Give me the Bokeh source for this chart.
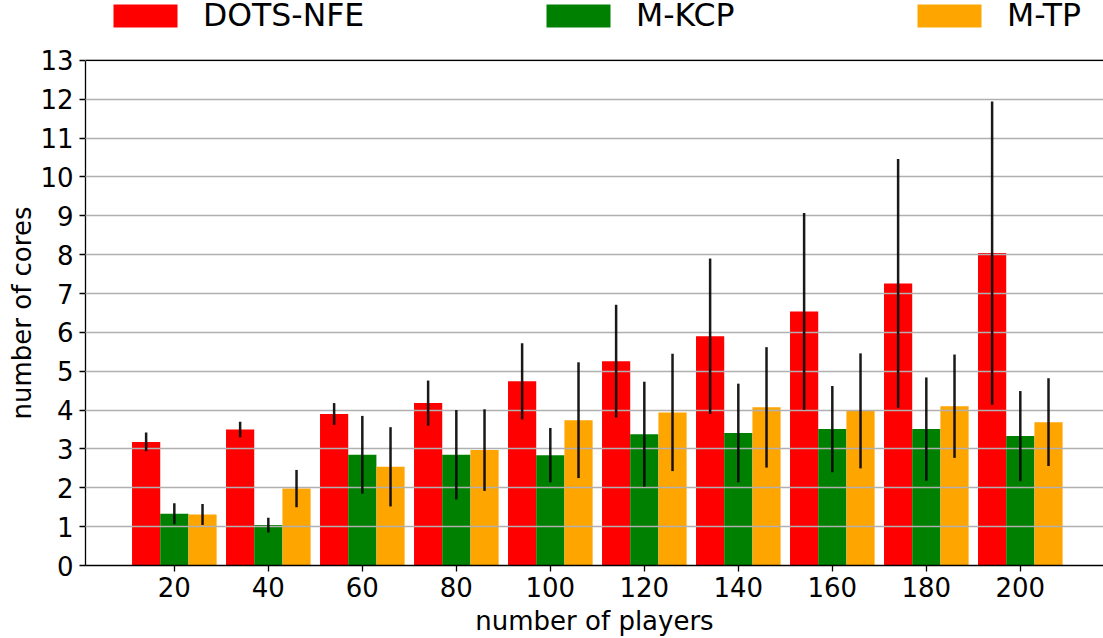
from bokeh.plotting import figure
from bokeh.models import (ColumnDataSource, Range1d, FixedTicker,
                          Legend, LegendItem, Whisker, Span, Title)
from bokeh.embed import file_html
from bokeh.resources import INLINE

players = [20, 40, 60, 80, 100, 120, 140, 160, 180, 200]
series_names = ["DOTS-NFE", "M-KCP", "M-TP"]
colors = ["#ff0000", "#008000", "#ffa500"]

dots_mean = [3.18, 3.50, 3.90, 4.18, 4.74, 5.26, 5.90, 6.54, 7.26, 8.04]
dots_err = [0.24, 0.20, 0.28, 0.58, 0.98, 1.45, 2.00, 2.53, 3.20, 3.90]
kcp_mean = [1.33, 1.04, 2.85, 2.85, 2.84, 3.38, 3.41, 3.51, 3.51, 3.33]
kcp_err = [0.27, 0.19, 1.00, 1.15, 0.70, 1.35, 1.27, 1.11, 1.33, 1.16]
tp_mean = [1.31, 1.98, 2.54, 2.97, 3.74, 3.94, 4.07, 3.98, 4.10, 3.69]
tp_err = [0.27, 0.48, 1.02, 1.05, 1.49, 1.51, 1.55, 1.48, 1.33, 1.13]

y_ticks = list(range(0, 14))
x_ticks = players
Y_MAX = 13

FONT = "DejaVu Sans"
bar_w = 6.0
offsets = [-bar_w, 0.0, bar_w]

# frame spans the full height down to the x axis; values stop at Y_MAX,
# the space above is used by the legend
p = figure(width=1103, height=638, output_backend="svg", toolbar_location=None,
           x_range=Range1d(1.1, 217.7), y_range=Range1d(0, Y_MAX * 566 / 506),
           min_border_left=85, min_border_right=0, min_border_top=0,
           min_border_bottom=72)
p.outline_line_color = None
p.background_fill_color = "white"
p.border_fill_color = "white"

means = [dots_mean, kcp_mean, tp_mean]
errs = [dots_err, kcp_err, tp_err]
renderers = []
for name, col, off, m, e in zip(series_names, colors, offsets, means, errs):
    xs = [x + off for x in players]
    src = ColumnDataSource(dict(x=xs, top=m,
                                lo=[a - b for a, b in zip(m, e)],
                                hi=[a + b for a, b in zip(m, e)]))
    r = p.vbar(x="x", top="top", width=bar_w, bottom=0, source=src,
               fill_color=col, line_color=None)
    renderers.append(r)
    w = Whisker(base="x", lower="lo", upper="hi", source=src,
                line_color="black", line_width=2.5, line_alpha=0.9,
                upper_head=None, lower_head=None, level="annotation")
    p.add_layout(w)

# axes
p.xaxis.ticker = FixedTicker(ticks=x_ticks)
p.yaxis.ticker = FixedTicker(ticks=y_ticks)
p.yaxis.bounds = (0, Y_MAX)
p.xgrid.visible = False
p.ygrid.grid_line_color = "#b0b0b0"
p.ygrid.grid_line_width = 1.5
p.ygrid.level = "guide"

for ax in (p.xaxis[0], p.yaxis[0]):
    ax.axis_line_color = "black"
    ax.axis_line_width = 1.3
    ax.major_tick_line_color = "black"
    ax.major_tick_line_width = 1.3
    ax.major_tick_out = 6
    ax.major_tick_in = 0
    ax.minor_tick_line_color = None
    ax.major_label_text_font = FONT
    ax.major_label_text_font_size = "26px"
    ax.major_label_text_color = "black"
    ax.axis_label_text_font = FONT
    ax.axis_label_text_font_size = "26px"
    ax.axis_label_text_font_style = "normal"
    ax.axis_label_text_color = "black"

p.xaxis.axis_label = "number of players"
p.xaxis.major_label_standoff = 5
p.xaxis.axis_label_standoff = 6
p.yaxis.major_label_standoff = 6

# y axis title, centred on the 0..13 part of the axis
ytitle = Title(text="number of cores", align="left", offset=146, standoff=2,
               text_font=FONT, text_font_size="26px",
               text_font_style="normal", text_color="black")
p.add_layout(ytitle, "left")

# top spine
p.add_layout(Span(location=Y_MAX, dimension="width", line_color="black",
                  line_width=1.3, level="guide"))

# legends: one per entry, spread across the top
legend_x = [20, 453, 824]
for name, r, lx in zip(series_names, renderers, legend_x):
    lg = Legend(items=[LegendItem(label=name, renderers=[r])],
                location=(lx, 532), orientation="horizontal",
                glyph_width=80, glyph_height=29, label_standoff=18,
                label_text_font=FONT, label_text_font_size="31.5px",
                label_text_color="black", padding=0, margin=0,
                border_line_color=None, background_fill_alpha=0,
                spacing=0)
    p.add_layout(lg, "center")

open("out.html", "w").write(file_html(p, INLINE))
